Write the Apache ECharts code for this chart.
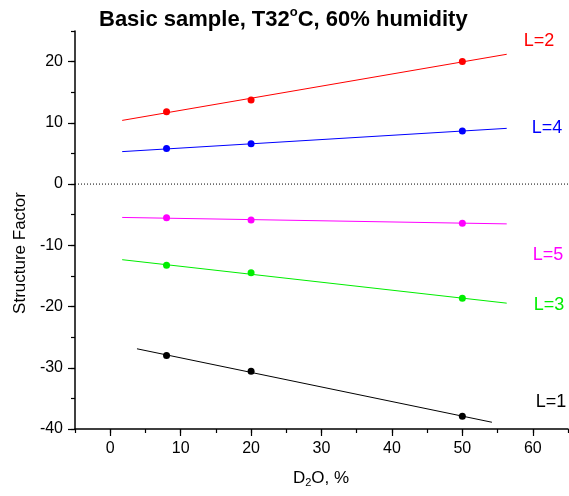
<!DOCTYPE html>
<html>
<head>
<meta charset="utf-8">
<script src="https://cdn.jsdelivr.net/npm/echarts@6/dist/echarts.min.js"></script>
<style>html,body{margin:0;padding:0;background:#fff}#c{width:569px;height:496px}</style>
</head>
<body>
<div id="c"></div>
<script>
// Measured D2O values (%)
const xPoints = [8, 20, 50];
// Structure factor values per order L
const valsL1 = [-28.0, -30.55, -37.9];
const valsL2 = [11.8, 13.75, 20.0];
const valsL3 = [-13.25, -14.5, -18.65];
const valsL4 = [5.8, 6.6, 8.65];
const valsL5 = [-5.5, -5.85, -6.4];
// Linear fit line endpoints
const fitX = [1.7, 56.3];
const fitX1 = [3.8, 54.2];
const fitL1 = [-26.9, -38.9];
const fitL2 = [10.4, 21.2];
const fitL3 = [-12.35, -19.45];
const fitL4 = [5.3, 9.1];
const fitL5 = [-5.45, -6.5];
// Axis ticks
const xMajor = [0, 10, 20, 30, 40, 50, 60];
const yMajor = [-40, -30, -20, -10, 0, 10, 20];
const seriesNames = ['L=1', 'L=2', 'L=3', 'L=4', 'L=5'];
const colors = ['#000000', '#ff0000', '#00ee00', '#0000ff', '#ff00ff'];

const FONT = 'Liberation Sans, Arial, Helvetica, sans-serif';
const pts = [valsL1, valsL2, valsL3, valsL4, valsL5];
const fits = [fitL1, fitL2, fitL3, fitL4, fitL5];
const fitXs = [fitX1, fitX, fitX, fitX, fitX];

const series = [];
for (let i = 0; i < 5; i++) {
  series.push({
    name: seriesNames[i] + ' fit', type: 'line', xAxisIndex: 0, yAxisIndex: 0,
    data: fitXs[i].map((x, k) => [x, fits[i][k]]),
    showSymbol: false, symbol: 'none', silent: true,
    lineStyle: { color: colors[i], width: 1 }
  });
  series.push({
    name: seriesNames[i], type: 'scatter', xAxisIndex: 0, yAxisIndex: 0,
    data: xPoints.map((x, k) => [x, pts[i][k]]),
    symbol: 'circle', symbolSize: 7,
    itemStyle: { color: colors[i], opacity: 1 }
  });
}
series.push({
  name: 'zero', type: 'line', xAxisIndex: 0, yAxisIndex: 0,
  data: [[-5, 0], [65, 0]], symbol: 'none', silent: true,
  lineStyle: { color: '#000', width: 1, type: [1, 2] }
});

const chart = echarts.init(document.getElementById('c'), null, { renderer: 'canvas' });
chart.setOption({
  animation: false,
  backgroundColor: '#fff',
  title: {
    text: '{b|Basic sample, T32}{s|o}{b|C, 60% humidity}',
    left: 94, top: 2,
    textStyle: {
      rich: {
        b: { fontFamily: FONT, fontWeight: 'bold', fontSize: 22, color: '#000', lineHeight: 26 },
        s: { fontFamily: FONT, fontWeight: 'bold', fontSize: 13, color: '#000', lineHeight: 12, padding: [0, 0, 16, 0] }
      }
    }
  },
  grid: { left: 75, right: 1, top: 31, bottom: 67, containLabel: false },
  xAxis: [{
    type: 'value', min: -5, max: 65, interval: 5, position: 'bottom',
    axisLine: { show: true, onZero: false, lineStyle: { color: '#000', width: 1.5 } },
    axisTick: { show: true, length: 7, customValues: xMajor, lineStyle: { color: '#000', width: 1.2 } },
    axisLabel: { customValues: xMajor, margin: 12, fontFamily: FONT, fontSize: 16, color: '#000' },
    splitLine: { show: false }
  }, {
    type: 'value', min: -5, max: 65, interval: 5, position: 'bottom', offset: 0,
    axisLine: { show: false, onZero: false },
    axisTick: { show: true, length: 4, lineStyle: { color: '#000', width: 1.2 } },
    axisLabel: { show: false },
    splitLine: { show: false }
  }],
  yAxis: [{
    type: 'value', min: -40, max: 25, interval: 5, position: 'left',
    axisLine: { show: true, onZero: false, lineStyle: { color: '#000', width: 1.5 } },
    axisTick: { show: true, length: 7, customValues: yMajor, lineStyle: { color: '#000', width: 1.2 } },
    axisLabel: { customValues: yMajor, margin: 12, fontFamily: FONT, fontSize: 16, color: '#000' },
    splitLine: { show: false }
  }, {
    type: 'value', min: -40, max: 25, interval: 5, position: 'left', offset: 0,
    axisLine: { show: false, onZero: false },
    axisTick: { show: true, length: 4, lineStyle: { color: '#000', width: 1.2 } },
    axisLabel: { show: false },
    splitLine: { show: false }
  }],
  graphic: [
    { type: 'text', rotation: Math.PI / 2, x: 20, y: 253,
      style: { text: 'Structure Factor', font: '17px ' + FONT, fill: '#000', textAlign: 'center', textVerticalAlign: 'middle' } },
    { type: 'text', x: 321, y: 478,
      style: { text: '{a|D}{s|2}{a|O, %}', textAlign: 'center', textVerticalAlign: 'middle',
        rich: { a: { font: '17px ' + FONT, fill: '#000', lineHeight: 20 },
                s: { font: '11px ' + FONT, fill: '#000', lineHeight: 12, padding: [10, 0, 0, 0] } } } },
    { type: 'text', x: 539, y: 41, style: { text: 'L=2', font: '18px ' + FONT, fill: colors[1], textAlign: 'center', textVerticalAlign: 'middle' } },
    { type: 'text', x: 547, y: 128, style: { text: 'L=4', font: '18px ' + FONT, fill: colors[3], textAlign: 'center', textVerticalAlign: 'middle' } },
    { type: 'text', x: 548, y: 255, style: { text: 'L=5', font: '18px ' + FONT, fill: colors[4], textAlign: 'center', textVerticalAlign: 'middle' } },
    { type: 'text', x: 549, y: 305, style: { text: 'L=3', font: '18px ' + FONT, fill: colors[2], textAlign: 'center', textVerticalAlign: 'middle' } },
    { type: 'text', x: 551, y: 402, style: { text: 'L=1', font: '18px ' + FONT, fill: colors[0], textAlign: 'center', textVerticalAlign: 'middle' } }
  ],
  series: series
});
</script>
</body>
</html>
